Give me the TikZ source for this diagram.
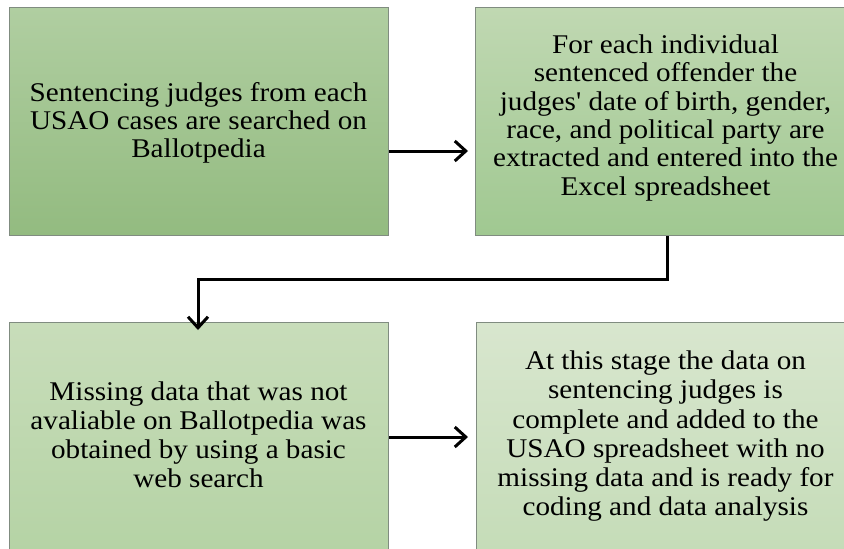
\documentclass[tikz,border=0pt]{standalone}
\usepackage{fontspec}
\newfontfamily\boxfont{Liberation Serif}[FakeStretch=1.08]
\usetikzlibrary{arrows.meta}
\begin{document}
\begin{tikzpicture}[x=1pt,y=-1pt,
  stepbox/.style={draw={rgb,255:red,128;green,140;blue,128}, line width=1pt, minimum width=379pt, minimum height=228pt, inner sep=0pt, anchor=north west},
  txt/.style={font=\boxfont\fontsize{27}{28.3}\selectfont, align=center, inner sep=0pt},
  txtlow/.style={font=\boxfont\fontsize{27}{29.2}\selectfont, align=center, inner sep=0pt},
  conn/.style={line width=3pt, -{Straight Barb[length=11pt,width=20pt,line width=3pt]}}
]
\useasboundingbox (0,0) rectangle (844,549);
\node[stepbox, top color={rgb,255:red,176;green,206;blue,161}, bottom color={rgb,255:red,147;green,187;blue,128}] (b1) at (9,7) {};
\node[stepbox, top color={rgb,255:red,192;green,216;blue,178}, bottom color={rgb,255:red,160;green,200;blue,145}] (b2) at (475,7) {};
\node[stepbox, top color={rgb,255:red,200;green,221;blue,186}, bottom color={rgb,255:red,181;green,211;blue,165}] (b3) at (9,322) {};
\node[stepbox, top color={rgb,255:red,216;green,230;blue,206}, bottom color={rgb,255:red,197;green,220;blue,184}] (b4) at (476,322) {};
\node[txt] (t1) at (198.5,122.8) {Sentencing judges from each\\USAO cases are searched on\\Ballotpedia};
\node[txt] (t2) at (665.5,117.9) {For each individual\\sentenced offender the\\judges' date of birth, gender,\\race, and political party are\\extracted and entered into the\\Excel spreadsheet};
\node[txtlow] (t3) at (198.5,434.8) {Missing data that was not\\avaliable on Ballotpedia was\\obtained by using a basic\\web search};
\node[txtlow] (t4) at (665.5,436.2) {At this stage the data on\\sentencing judges is\\complete and added to the\\USAO spreadsheet with no\\missing data and is ready for\\coding and data analysis};
\coordinate (a1) at (b1.east |- 0,151);
\coordinate (a3) at (b3.east |- 0,437);
\coordinate (k1) at (667,279);
\coordinate (k2) at (198,279);
\draw[conn] (a1) -- ([xshift=-7pt]a1 -| b2.west);
\draw[conn] (b2.south -| k1) -- (k1) -- (k2) -- ([yshift=-8pt]b3.north -| k2);
\draw[conn] (a3) -- ([xshift=-8pt]a3 -| b4.west);
\end{tikzpicture}
\end{document}
